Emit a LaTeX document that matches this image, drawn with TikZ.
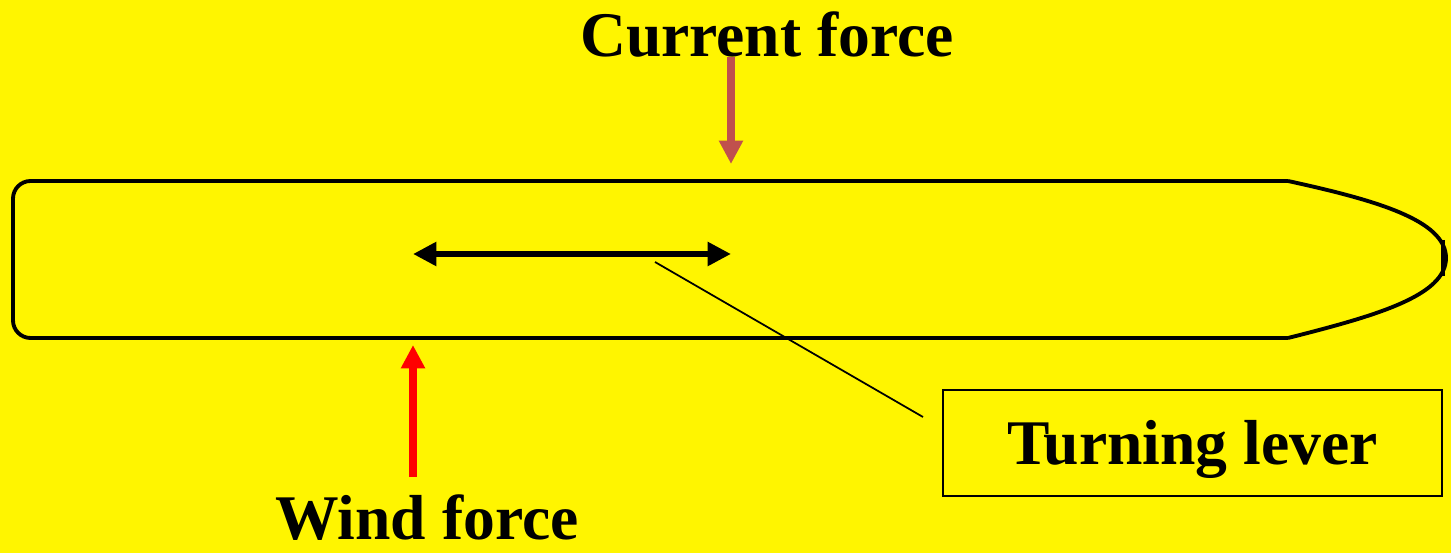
\documentclass[tikz,border=0pt]{standalone}
\usepackage{fontspec}
\setmainfont{Liberation Serif}
\usetikzlibrary{arrows.meta}
\definecolor{bg}{HTML}{FFF500}
\definecolor{currentcol}{HTML}{C0504D}
\begin{document}
\begin{tikzpicture}[x=0.02cm,y=-0.02cm,
  lbl/.style={font=\fontsize{36.2}{40}\selectfont\bfseries, inner sep=0pt, anchor=base},
  force/.style={line width=4.4pt, -{Triangle[length=13.3pt,width=13pt]}},
  hull/.style={line width=2.2pt, line join=round}]
\fill[bg] (0,0) rectangle (1451,553);
\useasboundingbox (0,0) rectangle (1451,553);
% ship hull
\draw[hull, rounded corners=10pt] (1288,181) -- (13,181) -- (13,338) -- (1288,338);
\draw[hull] (1288,181) .. controls (1375,200) and (1446,220) .. (1446,258)
  .. controls (1446,296) and (1375,316) .. (1288,338);
\draw[line width=2.5pt] (1443,240) -- (1443,276);
% turning lever arrow
\coordinate (ll) at (413,254);
\coordinate (lr) at (731,254);
\draw[line width=3.8pt, {Triangle[length=13.3pt,width=13pt]}-{Triangle[length=13.3pt,width=13pt]}] (ll) -- (lr);
% current force
\node[lbl] (cur) at (767,57) {Current force};
\coordinate (ctop) at (731,57);
\coordinate (cbot) at (731,164);
\draw[force, currentcol] (ctop) -- (cbot);
% wind force
\node[lbl] (wind) at (427,540) {Wind force};
\coordinate (wbot) at (413,477);
\coordinate (wtop) at (413,345);
\draw[force, red] (wbot) -- (wtop);
% turning lever box
\node[draw, line width=0.9pt, minimum width=499*0.02cm, minimum height=106*0.02cm,
  inner sep=0pt, font=\fontsize{36.2}{40}\selectfont\bfseries,
  text height=24pt, text depth=0pt] (box) at (1192.5,443) {Turning lever};
\coordinate (lt) at (655,262);
\coordinate (le) at (923,417);
\draw[line width=1pt] (lt) -- (le);
\end{tikzpicture}
\end{document}
